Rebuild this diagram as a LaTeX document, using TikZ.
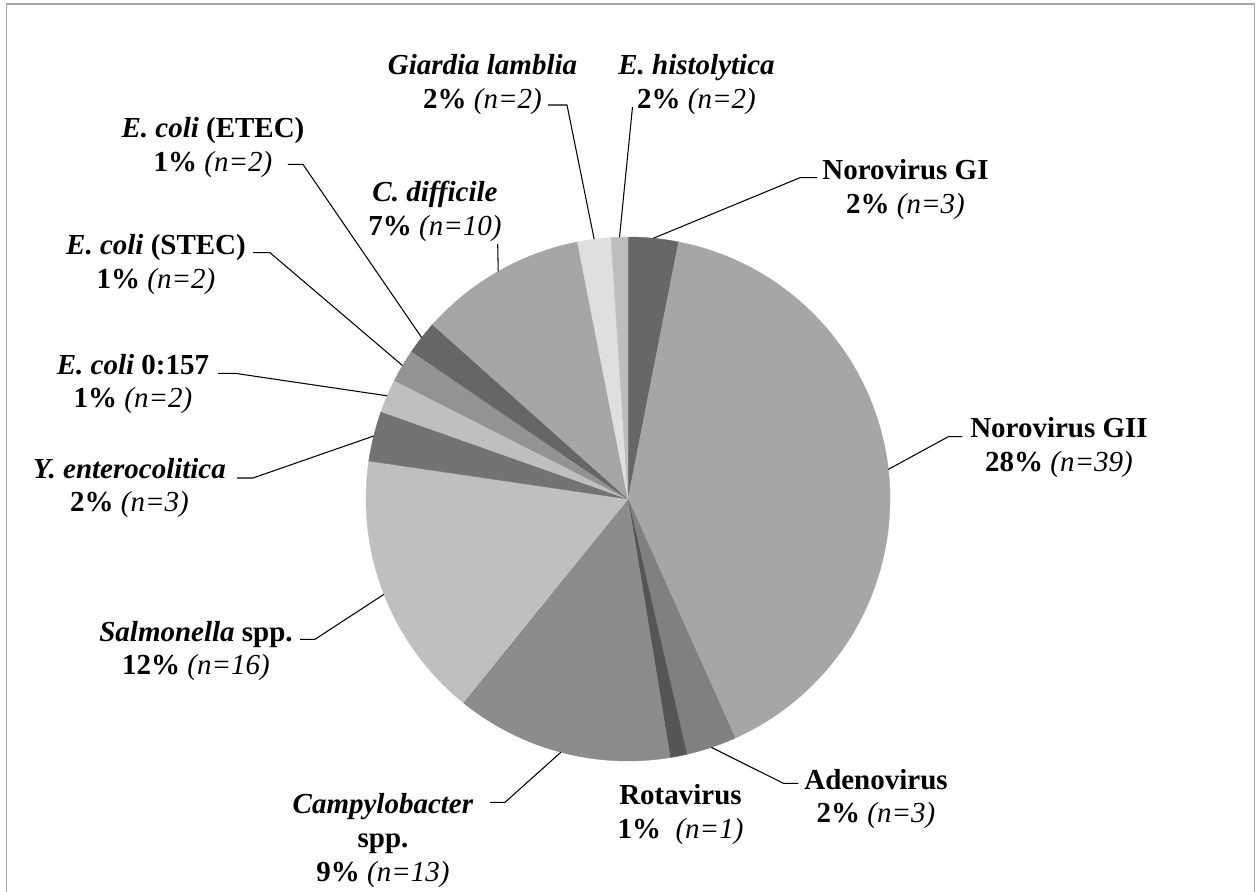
\documentclass[tikz,border=0pt]{standalone}
\usepackage{fontspec}
\setmainfont{Liberation Serif}

\definecolor{framegray}{HTML}{A6A6A6}
\definecolor{cGI}{HTML}{676767}
\definecolor{cGII}{HTML}{A6A6A6}
\definecolor{cAdeno}{HTML}{808080}
\definecolor{cRota}{HTML}{555555}
\definecolor{cCampy}{HTML}{8C8C8C}
\definecolor{cSalm}{HTML}{BFBFBF}
\definecolor{cYent}{HTML}{737373}
\definecolor{cOneFive}{HTML}{BFBFBF}
\definecolor{cStec}{HTML}{939393}
\definecolor{cEtec}{HTML}{666666}
\definecolor{cCdiff}{HTML}{A6A6A6}
\definecolor{cGiard}{HTML}{DFDFDF}
\definecolor{cEhist}{HTML}{BDBDBD}

\newcommand{\share}[2]{\textbf{#1\%} \textit{(n=#2)}}
\newcommand{\lblstack}[1]{\begin{tabular}[t]{@{}c@{}}#1\end{tabular}}

\begin{document}
\begin{tikzpicture}[
        x=0.02cm, y=-0.02cm,
        lbl/.style={anchor=base, inner sep=0pt, font=\fontsize{16.5}{19.3}\selectfont},
        lead/.style={draw=black, line width=0.6pt},
        wedge/.style={line width=0.2pt},
    ]
    \useasboundingbox (0,0) rectangle (1259,892);
    \draw[framegray, line width=0.8pt] (6.3,892) -- (6.3,4) -- (1254.2,4) -- (1254.2,892);

    % pie, clockwise from the top
    \begin{scope}[shift={(628,499)}, yscale=-1]
        \filldraw[wedge, fill=cGI, draw=cGI] (0,0) -- (90:262) arc[start angle=90, end angle=78.866, radius=262] -- cycle;
        \filldraw[wedge, fill=cGII, draw=cGII] (0,0) -- (78.866:262) arc[start angle=78.866, end angle=-65.876, radius=262] -- cycle;
        \filldraw[wedge, fill=cAdeno, draw=cAdeno] (0,0) -- (-65.876:262) arc[start angle=-65.876, end angle=-77.010, radius=262] -- cycle;
        \filldraw[wedge, fill=cRota, draw=cRota] (0,0) -- (-77.010:262) arc[start angle=-77.010, end angle=-80.722, radius=262] -- cycle;
        \filldraw[wedge, fill=cCampy, draw=cCampy] (0,0) -- (-80.722:262) arc[start angle=-80.722, end angle=-128.969, radius=262] -- cycle;
        \filldraw[wedge, fill=cSalm, draw=cSalm] (0,0) -- (231.031:262) arc[start angle=231.031, end angle=171.649, radius=262] -- cycle;
        \filldraw[wedge, fill=cYent, draw=cYent] (0,0) -- (171.649:262) arc[start angle=171.649, end angle=160.515, radius=262] -- cycle;
        \filldraw[wedge, fill=cOneFive, draw=cOneFive] (0,0) -- (160.515:262) arc[start angle=160.515, end angle=153.093, radius=262] -- cycle;
        \filldraw[wedge, fill=cStec, draw=cStec] (0,0) -- (153.093:262) arc[start angle=153.093, end angle=145.670, radius=262] -- cycle;
        \filldraw[wedge, fill=cEtec, draw=cEtec] (0,0) -- (145.670:262) arc[start angle=145.670, end angle=138.247, radius=262] -- cycle;
        \filldraw[wedge, fill=cCdiff, draw=cCdiff] (0,0) -- (138.247:262) arc[start angle=138.247, end angle=101.134, radius=262] -- cycle;
        \filldraw[wedge, fill=cGiard, draw=cGiard] (0,0) -- (101.134:262) arc[start angle=101.134, end angle=93.711, radius=262] -- cycle;
        \filldraw[wedge, fill=cEhist, draw=cEhist] (0,0) -- (93.711:262) arc[start angle=93.711, end angle=90, radius=262] -- cycle;
        % where the leaders meet the rim
        \coordinate (gi-e) at (84.433:262);
        \coordinate (gii-e) at (6.495:262);
        \coordinate (adeno-e) at (-71.443:262);
        \coordinate (campy-e) at (-104.845:262);
        \coordinate (salm-e) at (201.340:262);
        \coordinate (yent-e) at (166.082:262);
        \coordinate (o157-e) at (156.804:262);
        \coordinate (stec-e) at (149.381:262);
        \coordinate (etec-e) at (141.959:262);
        \coordinate (cdiff-e) at (119.691:262);
        \coordinate (giard-e) at (97.423:262);
        \coordinate (ehist-e) at (91.856:262);
    \end{scope}

    % labels
    \node[lbl] (gi) at (905.5,179.3) {\lblstack{\textbf{Norovirus GI}\\\share{2}{3}}};
    \node[lbl] (gii) at (1059,437.3) {\lblstack{\textbf{Norovirus GII}\\\share{28}{39}}};
    \node[lbl] (adeno) at (876,789) {\lblstack{\textbf{Adenovirus}\\\share{2}{3}}};
    \node[lbl] (rota) at (680.5,804.3) {\lblstack{\textbf{Rotavirus}\\\textbf{1\%}\ \ \textit{(n=1)}}};
    \node[lbl] (campy) at (383,813.3) {\lblstack{\textbf{\textit{Campylobacter}}\\\textbf{spp.}\\\share{9}{13}}};
    \node[lbl] (salm) at (196,641) {\lblstack{\textbf{\textit{Salmonella} spp.}\\\share{12}{16}}};
    \node[lbl] (yent) at (129.5,478) {\lblstack{\textbf{\textit{Y. enterocolitica}}\\\share{2}{3}}};
    \node[lbl] (o157) at (133,374) {\lblstack{\textbf{\textit{E. coli} 0:157}\\\share{1}{2}}};
    \node[lbl] (stec) at (156,255) {\lblstack{\textbf{\textit{E. coli} (STEC)}\\\share{1}{2}}};
    \node[lbl] (etec) at (213,137.5) {\lblstack{\textbf{\textit{E. coli} (ETEC)}\\\share{1}{2}}};
    \node[lbl] (cdiff) at (435,201.7) {\lblstack{\textbf{\textit{C. difficile}}\\\share{7}{10}}};
    \node[lbl] (giard) at (482.5,75) {\lblstack{\textbf{\textit{Giardia lamblia}}\\\share{2}{2}}};
    \node[lbl] (ehist) at (696.5,75) {\lblstack{\textbf{\textit{E. histolytica}}\\\share{2}{2}}};

    % leader lines
    \coordinate (gi-k) at (800,177.7);
    \coordinate (gii-k) at (948.3,436.7);
    \coordinate (adeno-k) at (783.3,783.3);
    \coordinate (campy-k) at (505,802.3);
    \coordinate (salm-k) at (315,639.3);
    \coordinate (yent-k) at (253,478);
    \coordinate (o157-k) at (235,373.3);
    \coordinate (stec-k) at (270,252.7);
    \coordinate (etec-k) at (302.9,164.3);
    \coordinate (cdiff-k) at (497.7,244);
    \coordinate (giard-k) at (567,105);
    \coordinate (ehist-k) at (632.5,107);
    \draw[lead] (gi-e) -- (gi-k) -- ++(17,0);
    \draw[lead] (gii-e) -- (gii-k) -- ++(14,0);
    \draw[lead] (adeno-e) -- (adeno-k) -- ++(15,0);
    \draw[lead] (campy-e) -- (campy-k) -- ++(-15,0);
    \draw[lead] (salm-e) -- (salm-k) -- ++(-15,0);
    \draw[lead] (yent-e) -- (yent-k) -- ++(-16,0);
    \draw[lead] (o157-e) -- (o157-k) -- ++(-17,0);
    \draw[lead] (stec-e) -- (stec-k) -- ++(-17,0);
    \draw[lead] (etec-e) -- (etec-k) -- ++(-15,0);
    \draw[lead] (cdiff-e) -- (cdiff-k);
    \draw[lead] (giard-e) -- (giard-k) -- ++(-19,0);
    \draw[lead] (ehist-e) -- (ehist-k);
\end{tikzpicture}
\end{document}
